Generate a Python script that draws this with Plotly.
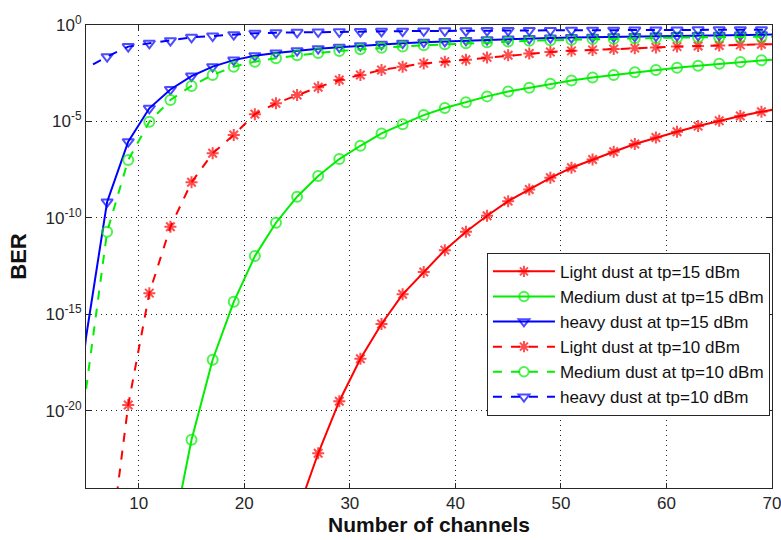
import plotly.graph_objects as go

# Number of channels (odd values; the curves run past the axis limits on both sides)
channels = [3, 5, 7, 9, 11, 13, 15, 17, 19, 21, 23, 25, 27, 29, 31, 33, 35, 37,
            39, 41, 43, 45, 47, 49, 51, 53, 55, 57, 59, 61, 63, 65, 67, 69, 71]

# log10(BER) for each scenario
light_15 = [-60, -55, -50, -46, -42, -38.5, -35.5, -32.5, -30, -27.6, -27.6, -25.3,
            -22.2, -19.5, -17.3, -15.5, -13.96, -12.8, -11.67, -10.72, -9.89, -9.13,
            -8.53, -7.92, -7.4, -6.97, -6.57, -6.17, -5.83, -5.53, -5.24, -4.96,
            -4.72, -4.5, -4.3]

medium_15 = [-45, -40, -36, -32, -29.5, -27.0, -21.5, -17.35, -14.35, -11.98, -10.25,
             -8.9, -7.83, -6.95, -6.26, -5.62, -5.14, -4.67, -4.3, -4.0, -3.7, -3.45,
             -3.25, -3.05, -2.88, -2.72, -2.59, -2.45, -2.33, -2.22, -2.11, -2.01,
             -1.92, -1.83, -1.75]

heavy_15 = [-26.0, -16.2, -9.17, -6.05, -4.32, -3.34, -2.65, -2.16, -1.82, -1.59,
            -1.45, -1.33, -1.23, -1.15, -1.07, -1.0, -0.94, -0.89, -0.85, -0.8,
            -0.76, -0.73, -0.7, -0.67, -0.65, -0.63, -0.61, -0.59, -0.57, -0.55,
            -0.54, -0.53, -0.52, -0.5, -0.49]

light_10 = [-40, -33, -28.3, -19.7, -13.9, -10.46, -8.15, -6.65, -5.7, -4.62, -4.06,
            -3.63, -3.23, -2.85, -2.59, -2.33, -2.16, -1.99, -1.9, -1.8, -1.68,
            -1.57, -1.48, -1.4, -1.34, -1.29, -1.24, -1.2, -1.16, -1.12, -1.09,
            -1.06, -1.03, -1.0, -0.98]

medium_10 = [-30.0, -18.9, -10.72, -7.0, -5.02, -3.89, -3.16, -2.59, -2.16, -1.9,
             -1.72, -1.57, -1.45, -1.35, -1.26, -1.18, -1.11, -1.05, -1.0, -0.95,
             -0.9, -0.86, -0.82, -0.79, -0.76, -0.73, -0.71, -0.69, -0.67, -0.65,
             -0.64, -0.63, -0.62, -0.61, -0.6]

heavy_10 = [-3.2, -2.25, -1.64, -1.12, -0.95, -0.81, -0.64, -0.57, -0.5, -0.43,
            -0.4, -0.38, -0.36, -0.35, -0.34, -0.33, -0.32, -0.31, -0.3, -0.3,
            -0.29, -0.29, -0.28, -0.28, -0.27, -0.27, -0.27, -0.26, -0.26, -0.26,
            -0.25, -0.25, -0.25, -0.25, -0.24]

y_tick_exps = [0, -5, -10, -15, -20]

RED, GREEN, BLUE = "#ff0000", "#00ee00", "#0000ff"
FONT = "Liberation Sans, Arial, sans-serif"

series = [
    ("Light dust at tp=15 dBm", light_15, RED, "solid", "asterisk-open"),
    ("Medium dust at tp=15 dBm", medium_15, GREEN, "solid", "circle-open"),
    ("heavy dust at tp=15 dBm", heavy_15, BLUE, "solid", "triangle-down-open"),
    ("Light dust at tp=10 dBm", light_10, RED, "dash", "asterisk-open"),
    ("Medium dust at tp=10 dBm", medium_10, GREEN, "dash", "circle-open"),
    ("heavy dust at tp=10 dBm", heavy_10, BLUE, "dash", "triangle-down-open"),
]

# markers only on points from 7 channels upward; the line still enters from the left edge
marker_sizes = [0 if c < 6 else 10 for c in channels]

fig = go.Figure()
for name, logs, color, dash, symbol in series:
    fig.add_trace(go.Scatter(
        x=channels,
        y=[10 ** v for v in logs],
        name=name,
        mode="lines+markers",
        line=dict(color=color, width=2, dash=dash),
        marker=dict(symbol=symbol, size=marker_sizes, color=color,
                    line=dict(color=color, width=2)),
    ))

fig.update_layout(
    width=781, height=540,
    margin=dict(l=86, r=9, t=25, b=52),
    paper_bgcolor="white", plot_bgcolor="white",
    font=dict(family=FONT, size=17, color="#262626"),
    showlegend=True,
    legend=dict(
        x=0.997, y=0.508, xanchor="right", yanchor="top",
        bgcolor="white", bordercolor="#262626", borderwidth=1,
        font=dict(family=FONT, size=17, color="#111111"),
        tracegroupgap=0, itemwidth=62,
    ),
)

fig.update_xaxes(
    range=[5, 70], tickvals=[10, 20, 30, 40, 50, 60, 70],
    automargin=False, ticklabeloverflow="allow",
    showline=True, linecolor="#262626", linewidth=1, mirror="ticks",
    ticks="inside", ticklen=5, tickcolor="#262626",
    showgrid=True, gridcolor="#222222", griddash="1px,4px", gridwidth=1,
    zeroline=False,
    title=dict(text="<b>Number of channels</b>",
               font=dict(family=FONT, size=21, color="#111111"),
               standoff=3),
)

fig.update_yaxes(
    type="log", range=[-24, 0],
    tickvals=[10.0 ** e for e in y_tick_exps],
    ticktext=[f"10<sup>{e}</sup>" for e in y_tick_exps],
    automargin=False, ticklabeloverflow="allow",
    showline=True, linecolor="#262626", linewidth=1, mirror="ticks",
    ticks="inside", ticklen=5, tickcolor="#262626",
    showgrid=True, gridcolor="#222222", griddash="1px,4px", gridwidth=1,
    zeroline=False,
    title=dict(text="<b>BER</b>",
               font=dict(family=FONT, size=22, color="#111111"),
               standoff=12),
)

fig.write_html("out.html")
